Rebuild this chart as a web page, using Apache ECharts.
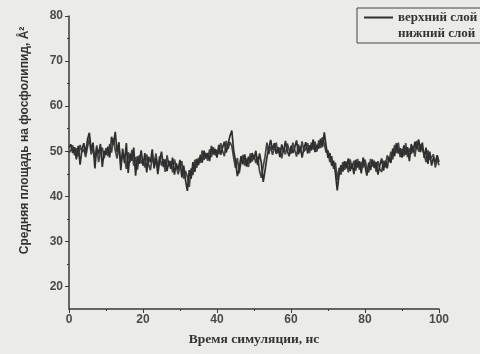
<!DOCTYPE html>
<html>
<head>
<meta charset="utf-8">
<script src="https://cdn.jsdelivr.net/npm/echarts@6/dist/echarts.min.js"></script>
<style>
  html, body { margin: 0; padding: 0; background: #ebebe8; }
  #chart { width: 480px; height: 354px; }
</style>
</head>
<body>
<div id="chart"></div>
<script>
// время, нс: шаг 0.5
const timeStep = 0.5;

const upperLayer = [
  50.8, 51.5, 49.6, 50.9, 48.2, 51.2, 47.0, 50.4, 51.8, 49.5,
  52.6, 54.1, 50.2, 51.9, 46.2, 50.8, 49.4, 51.6, 46.5, 50.1,
  49.2, 51.0, 48.6, 53.2, 51.5, 54.3, 49.8, 52.0, 45.8, 50.6,
  47.4, 51.8, 45.2, 49.5, 47.9, 50.8, 44.6, 48.9, 47.2, 50.2,
  46.8, 49.6, 45.3, 48.8, 47.5, 50.4, 46.2, 48.5, 44.9, 47.8,
  49.9, 46.5, 48.2, 45.6, 47.9, 46.1, 48.6, 44.8, 47.3, 45.9,
  48.1, 44.2, 46.8, 43.5, 41.2, 45.8, 43.9, 47.6, 45.4, 48.3,
  46.9, 49.2, 47.5, 50.1, 48.4, 49.6, 47.8, 51.2, 49.3, 50.5,
  48.6, 51.4, 49.2, 50.8, 52.1, 49.7, 51.6, 53.4, 54.6, 50.2,
  47.8, 44.5, 46.2, 48.9, 47.1, 49.3, 46.6, 48.8, 47.4, 49.6,
  48.2, 50.1, 46.9, 49.5, 47.3, 43.2, 45.8, 48.7, 50.6, 52.5,
  50.3, 51.8, 49.4, 50.9, 48.7, 51.5, 49.8, 52.3, 50.1, 48.9,
  51.2, 49.6, 50.8, 52.4, 49.3, 51.1, 48.6, 50.7, 52.0, 49.5,
  51.3, 50.2, 52.6, 49.8, 51.4, 50.6, 52.8, 50.9, 54.2, 51.1,
  48.5, 49.6, 46.8, 47.9, 45.2, 41.3, 44.8, 46.9, 45.5, 47.8,
  46.2, 48.4, 45.6, 47.3, 44.9, 48.1, 46.4, 47.8, 45.1, 48.6,
  46.7, 44.6, 47.5, 45.8, 48.2, 46.3, 47.6, 44.8, 46.9, 48.4,
  45.7, 47.9, 46.2, 48.8, 47.4, 50.6, 48.9, 51.8, 49.5, 50.7,
  48.6, 51.3, 49.2, 50.9, 47.8, 51.6, 49.7, 52.1, 50.4, 52.6,
  49.8, 51.9, 48.5, 50.8, 47.2, 49.9, 46.8, 48.6, 47.5, 49.1,
  47.6
];

const lowerLayer = [
  49.6, 50.2, 51.3, 49.1, 50.7, 48.9, 51.4, 49.8, 50.5, 48.7,
  50.9, 52.8, 49.3, 50.6, 48.1, 51.3, 47.6, 49.9, 50.8, 48.4,
  50.7, 48.9, 51.6, 49.7, 52.9, 50.2, 48.4, 51.1, 47.2, 49.3,
  48.6, 46.1, 49.8, 47.5, 50.3, 46.8, 48.7, 45.9, 49.1, 47.3,
  48.2, 46.4, 49.3, 47.1, 45.8, 48.6, 47.2, 49.5, 46.3, 48.9,
  46.8, 48.3, 45.4, 49.1, 46.7, 47.8, 45.3, 48.2, 46.6, 44.9,
  46.5, 47.8, 43.9, 45.6, 44.3, 42.1, 46.2, 44.7, 48.1, 46.3,
  48.5, 47.4, 50.2, 48.1, 49.6, 47.9, 50.4, 48.7, 50.9, 49.1,
  50.3, 49.4, 51.8, 50.1, 48.9, 52.3, 50.5, 52.0, 51.2, 48.6,
  46.3, 48.5, 45.1, 47.6, 49.2, 46.8, 48.4, 46.5, 49.5, 47.7,
  49.1, 47.4, 48.8, 45.6, 44.1, 46.7, 48.9, 51.9, 49.4, 51.1,
  49.2, 50.6, 51.9, 49.6, 50.8, 48.4, 50.6, 49.3, 51.7, 50.2,
  49.5, 51.9, 50.3, 48.8, 51.5, 49.7, 52.2, 49.9, 50.6, 51.8,
  49.6, 51.9, 50.4, 52.1, 49.9, 52.4, 50.7, 53.1, 51.6, 49.7,
  50.2, 47.6, 48.9, 46.1, 47.5, 43.6, 46.3, 44.8, 47.6, 45.9,
  47.7, 45.3, 48.2, 46.1, 47.9, 45.7, 48.3, 45.9, 47.6, 46.4,
  48.1, 46.2, 45.3, 48.3, 46.6, 47.9, 45.5, 47.8, 46.1, 45.4,
  47.9, 46.4, 49.1, 47.6, 49.9, 48.2, 51.4, 49.6, 51.9, 48.7,
  50.5, 48.9, 51.8, 48.7, 50.6, 49.4, 51.2, 48.8, 52.3, 49.9,
  51.6, 50.3, 49.4, 47.6, 50.2, 48.1, 47.9, 49.3, 46.4, 48.2,
  46.9
];

const xMajorTicks = [0, 20, 40, 60, 80, 100];
const xMinorTicks = [10, 30, 50, 70, 90];
const yMajorTicks = [20, 30, 40, 50, 60, 70, 80];
const yMinorTicks = [25, 35, 45, 55, 65, 75];

const toPairs = arr => arr.map((v, i) => [i * timeStep, v]);

const axisColor = '#3a3a3a';
const labelStyle = { color: '#4a4a4a', fontFamily: 'Liberation Sans', fontWeight: 'bold', fontSize: 12 };

const chart = echarts.init(document.getElementById('chart'));
chart.setOption({
  backgroundColor: '#ebebe8',
  animation: false,
  grid: { left: 69, right: 41, top: 16, bottom: 45 },
  legend: {
    left: 357, top: 8,
    orient: 'vertical',
    padding: [3, 40, 3, 6],
    itemGap: 3,
    itemWidth: 29, itemHeight: 12,
    borderColor: '#444', borderWidth: 1,
    itemStyle: { opacity: 0 },
    textStyle: { color: '#333', fontFamily: 'Liberation Serif', fontWeight: 'bold', fontSize: 13 },
    data: [
      { name: 'верхний слой' },
      { name: 'нижний слой', lineStyle: { opacity: 0 } }
    ]
  },
  xAxis: [{
    type: 'value', min: 0, max: 100,
    name: 'Время симуляции, нс',
    nameLocation: 'middle', nameGap: 24,
    nameTextStyle: { color: '#333', fontFamily: 'Liberation Serif', fontWeight: 'bold', fontSize: 13.5 },
    axisLine: { lineStyle: { color: axisColor, width: 1.5 } },
    axisTick: { length: 4, customValues: xMajorTicks, lineStyle: { color: axisColor } },
    axisLabel: Object.assign({ customValues: xMajorTicks, margin: 5 }, labelStyle),
    splitLine: { show: false }
  }, {
    type: 'value', min: 0, max: 100, position: 'bottom',
    axisLine: { show: false },
    axisTick: { length: 2, customValues: xMinorTicks, lineStyle: { color: axisColor } },
    axisLabel: { show: false },
    splitLine: { show: false }
  }],
  yAxis: [{
    type: 'value', min: 15, max: 80,
    name: 'Средняя площадь на фосфолипид, Å²',
    nameLocation: 'middle', nameGap: 38,
    nameTextStyle: { color: '#333', fontFamily: 'Liberation Sans', fontWeight: 'bold', fontSize: 12, padding: [0, 0, 0, 44] },
    axisLine: { show: true, lineStyle: { color: axisColor, width: 1.5 } },
    axisTick: { show: true, length: 4, customValues: yMajorTicks, lineStyle: { color: axisColor } },
    axisLabel: Object.assign({ customValues: yMajorTicks, margin: 6 }, labelStyle),
    splitLine: { show: false }
  }, {
    type: 'value', min: 15, max: 80, position: 'left',
    axisLine: { show: false },
    axisTick: { show: true, length: 2, customValues: yMinorTicks, lineStyle: { color: axisColor } },
    axisLabel: { show: false },
    splitLine: { show: false }
  }],
  series: [{
    name: 'нижний слой',
    type: 'line',
    symbol: 'none',
    data: toPairs(lowerLayer),
    lineStyle: { color: '#444', width: 1.7 },
    itemStyle: { color: '#444' }
  }, {
    name: 'верхний слой',
    type: 'line',
    symbol: 'none',
    data: toPairs(upperLayer),
    lineStyle: { color: '#2e2e2e', width: 1.7 },
    itemStyle: { color: '#2e2e2e' }
  }]
});
</script>
</body>
</html>
